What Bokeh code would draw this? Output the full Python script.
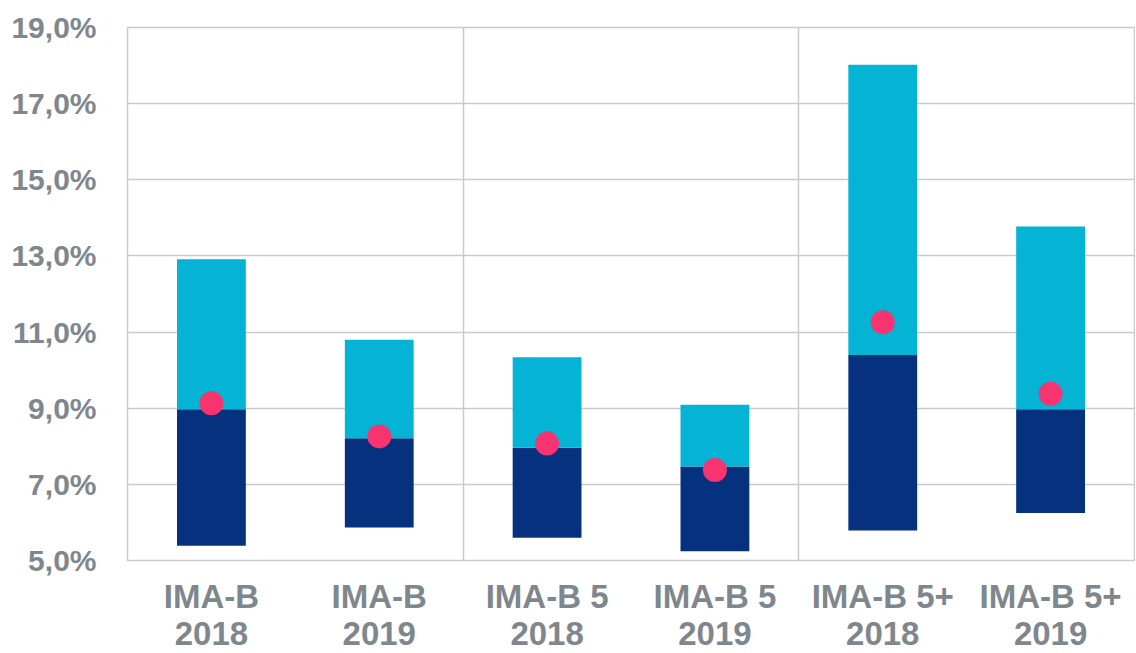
from bokeh.plotting import figure
from bokeh.models import FixedTicker, ColumnDataSource, CustomJSTickFormatter
from bokeh.embed import file_html
from bokeh.resources import INLINE

categories = ["IMA-B\n2018", "IMA-B\n2019", "IMA-B 5\n2018", "IMA-B 5\n2019", "IMA-B 5+\n2018", "IMA-B 5+\n2019"]
low = [5.39, 5.87, 5.60, 5.24, 5.79, 6.25]
mid = [8.97, 8.21, 7.96, 7.47, 10.40, 8.97]
high = [12.91, 10.80, 10.34, 9.09, 18.02, 13.77]
point = [9.13, 8.26, 8.07, 7.38, 11.26, 9.38]
y_ticks = [5, 7, 9, 11, 13, 15, 17, 19]

NAVY = "#05317E"
CYAN = "#05B3D4"
PINK = "#F7346F"
GREY_TXT = "#7F878E"
GRID = "#C9C9C9"

xs = [i + 0.5 for i in range(len(categories))]
src = ColumnDataSource(dict(x=xs, low=low, mid=mid, high=high, point=point))

p = figure(frame_width=1007, frame_height=533, x_range=(0, 6), y_range=(5, 19),
           output_backend="svg", toolbar_location=None,
           min_border_left=127, min_border_right=1, min_border_top=27, min_border_bottom=80)

bw = 0.41
p.vbar(x="x", bottom="low", top="mid", width=bw, source=src, fill_color=NAVY, line_color=None)
p.vbar(x="x", bottom="mid", top="high", width=bw, source=src, fill_color=CYAN, line_color=None)
p.scatter(x="x", y="point", size=24, source=src, fill_color=PINK, line_color=None)

p.outline_line_color = GRID
p.outline_line_width = 1.5

p.ygrid.ticker = FixedTicker(ticks=y_ticks)
p.ygrid.grid_line_color = GRID
p.ygrid.grid_line_width = 1.5
p.xgrid.ticker = FixedTicker(ticks=[2, 4])
p.xgrid.grid_line_color = GRID
p.xgrid.grid_line_width = 1.5

p.yaxis.ticker = FixedTicker(ticks=y_ticks)
p.yaxis.formatter = CustomJSTickFormatter(code="return tick.toFixed(1).replace('.', ',') + '%';")
p.yaxis.axis_line_color = None
p.yaxis.major_tick_line_color = None
p.yaxis.minor_tick_line_color = None
p.yaxis.major_label_standoff = 25
p.yaxis.major_label_text_font = "Liberation Sans"
p.yaxis.major_label_text_font_style = "bold"
p.yaxis.major_label_text_font_size = "30px"
p.yaxis.major_label_text_color = GREY_TXT

p.xaxis.ticker = FixedTicker(ticks=xs)
p.xaxis.major_label_overrides = {x: c for x, c in zip(xs, categories)}
p.xaxis.axis_line_color = None
p.xaxis.major_tick_line_color = None
p.xaxis.minor_tick_line_color = None
p.xaxis.major_label_standoff = 11
p.xaxis.major_label_text_font = "Liberation Sans"
p.xaxis.major_label_text_font_style = "bold"
p.xaxis.major_label_text_font_size = "33px"
p.xaxis.major_label_text_color = GREY_TXT
p.xaxis.major_label_text_line_height = 1.0

open("out.html", "w").write(file_html(p, INLINE))
